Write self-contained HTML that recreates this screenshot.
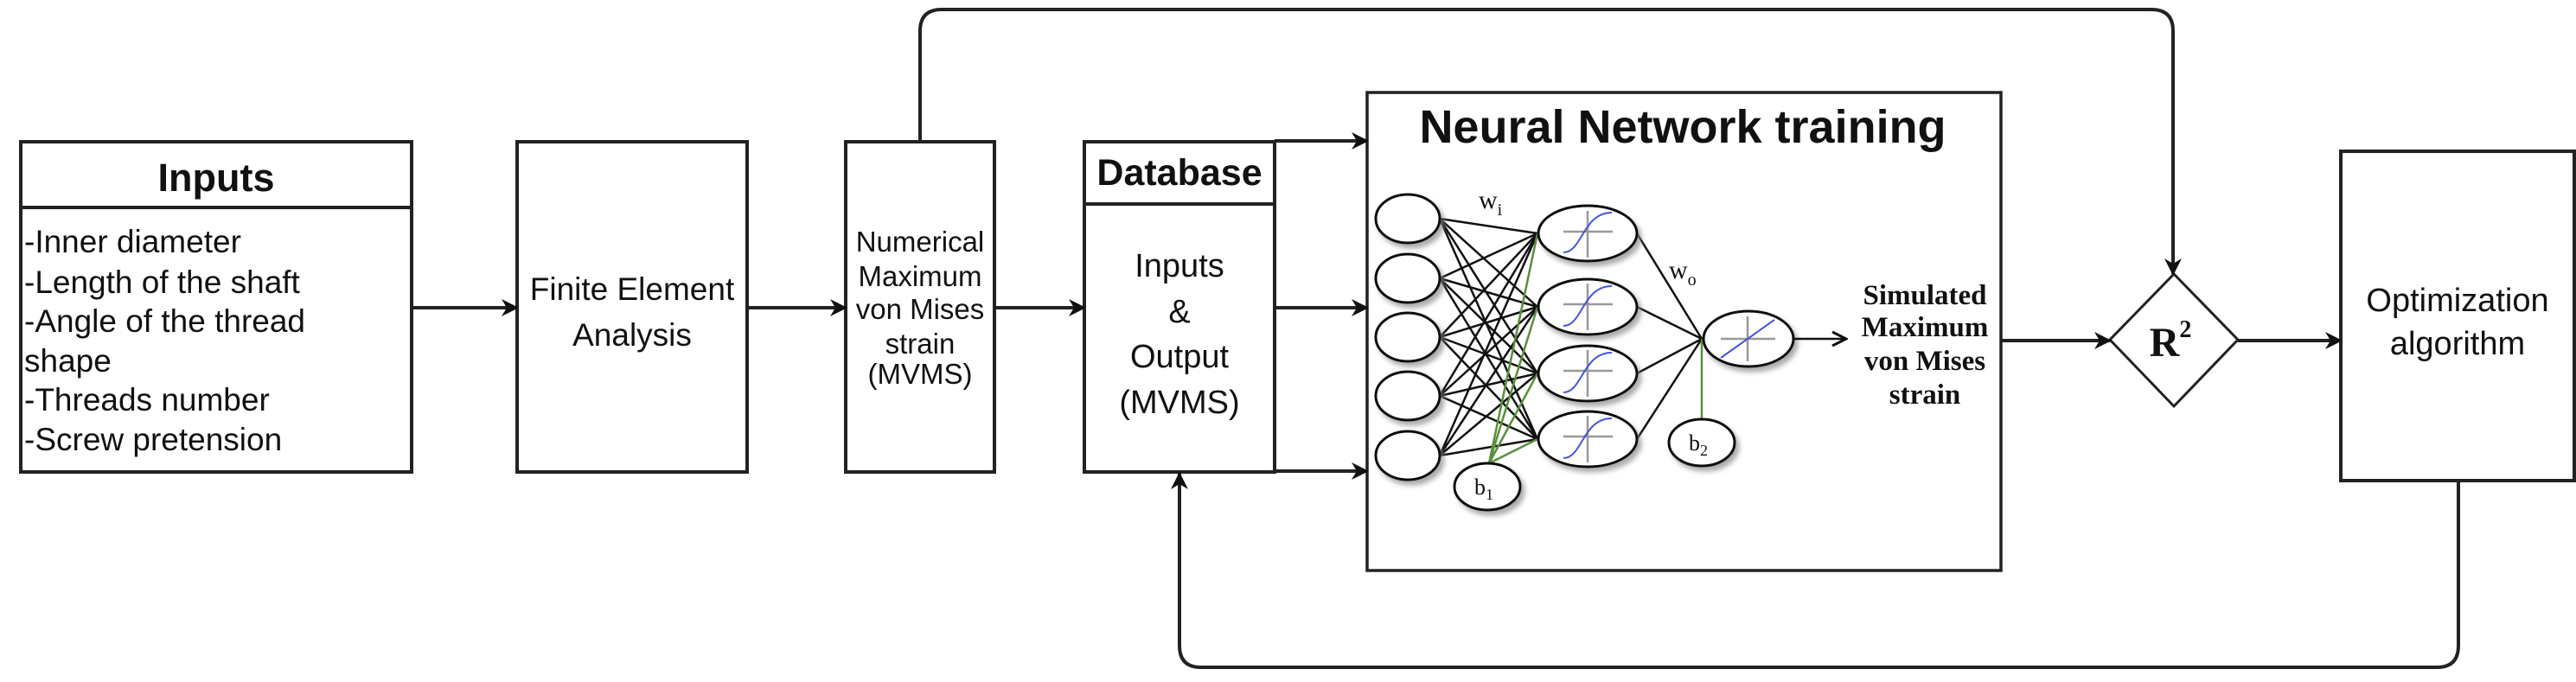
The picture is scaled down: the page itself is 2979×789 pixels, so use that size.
<!DOCTYPE html>
<html><head><meta charset="utf-8"><style>
html,body{margin:0;padding:0;background:#fff;}
svg{display:block;}
text{font-family:"Liberation Sans",sans-serif;fill:#111;}
.s{font-family:"Liberation Serif",serif;}
</style></head><body>
<svg width="2979" height="789" viewBox="0 0 2979 789" xmlns="http://www.w3.org/2000/svg">
<defs>
<marker id="ah" viewBox="0 0 20 20" refX="18" refY="10" markerWidth="20" markerHeight="20" markerUnits="userSpaceOnUse" orient="auto">
<path d="M0,0 L20,10 L0,20 L6,10 Z" fill="#111"/></marker>
<marker id="oa" viewBox="0 0 20 20" refX="18" refY="10" markerWidth="20" markerHeight="20" markerUnits="userSpaceOnUse" orient="auto">
<path d="M2,2 L18,10 L2,18" fill="none" stroke="#111" stroke-width="3"/></marker>
<filter id="sh" x="-20%" y="-20%" width="150%" height="150%"><feDropShadow dx="4" dy="5" stdDeviation="3" flood-color="#888" flood-opacity="0.7"/></filter>
</defs>
<g fill="none" stroke="#222" stroke-width="4">
<rect x="24" y="164" width="452" height="382"/>
<line x1="24" y1="240" x2="476" y2="240"/>
<rect x="598" y="164" width="266" height="382"/>
<rect x="978" y="164" width="172" height="382"/>
<rect x="1254" y="164" width="220" height="382"/>
<line x1="1254" y1="236" x2="1474" y2="236"/>
<rect x="1581" y="107" width="733" height="553" stroke-width="3.5"/>
<rect x="2707" y="175" width="270" height="381"/>
<path d="M2440,393 L2514,317 L2588,393 L2514,470 Z" stroke-width="3"/>
</g>
<g stroke="#222" stroke-width="4" fill="none">
<line x1="476" y1="356" x2="598" y2="356" marker-end="url(#ah)"/>
<line x1="864" y1="356" x2="978" y2="356" marker-end="url(#ah)"/>
<line x1="1150" y1="356" x2="1254" y2="356" marker-end="url(#ah)"/>
<line x1="1474" y1="163" x2="1581" y2="163" marker-end="url(#ah)"/>
<line x1="1474" y1="356" x2="1581" y2="356" marker-end="url(#ah)"/>
<line x1="1474" y1="545" x2="1581" y2="545" marker-end="url(#ah)"/>
<line x1="2314" y1="394" x2="2440" y2="394" marker-end="url(#ah)"/>
<line x1="2588" y1="394" x2="2707" y2="394" marker-end="url(#ah)"/>
<path d="M1064,164 L1064,36 Q1064,11 1089,11 L2488,11 Q2513,11 2513,36 L2513,317" marker-end="url(#ah)"/>
<path d="M2843,556 L2843,747 Q2843,772 2818,772 L1389,772 Q1364,772 1364,747 L1364,548" marker-end="url(#ah)"/>
</g>
<g stroke="#111" stroke-width="2.5">
<line x1="1665" y1="253" x2="1778" y2="270"/><line x1="1665" y1="253" x2="1778" y2="355"/><line x1="1665" y1="253" x2="1778" y2="432"/><line x1="1665" y1="253" x2="1778" y2="508"/>
<line x1="1665" y1="322" x2="1778" y2="270"/><line x1="1665" y1="322" x2="1778" y2="355"/><line x1="1665" y1="322" x2="1778" y2="432"/><line x1="1665" y1="322" x2="1778" y2="508"/>
<line x1="1665" y1="390" x2="1778" y2="270"/><line x1="1665" y1="390" x2="1778" y2="355"/><line x1="1665" y1="390" x2="1778" y2="432"/><line x1="1665" y1="390" x2="1778" y2="508"/>
<line x1="1665" y1="458" x2="1778" y2="270"/><line x1="1665" y1="458" x2="1778" y2="355"/><line x1="1665" y1="458" x2="1778" y2="432"/><line x1="1665" y1="458" x2="1778" y2="508"/>
<line x1="1665" y1="527" x2="1778" y2="270"/><line x1="1665" y1="527" x2="1778" y2="355"/><line x1="1665" y1="527" x2="1778" y2="432"/><line x1="1665" y1="527" x2="1778" y2="508"/>
<line x1="1893" y1="270" x2="1968" y2="392"/><line x1="1893" y1="355" x2="1968" y2="392"/><line x1="1893" y1="432" x2="1968" y2="392"/><line x1="1893" y1="508" x2="1968" y2="392"/>
</g>
<g stroke="#5a8f3a" stroke-width="2.5">
<line x1="1722" y1="536" x2="1778" y2="270"/><line x1="1722" y1="536" x2="1778" y2="355"/><line x1="1722" y1="536" x2="1778" y2="432"/><line x1="1722" y1="536" x2="1778" y2="508"/>
<line x1="1968" y1="392" x2="1968" y2="485"/>
</g>
<g fill="#fff" stroke="#111" stroke-width="3" filter="url(#sh)">
<ellipse cx="1628" cy="253" rx="37" ry="28"/><ellipse cx="1628" cy="322" rx="37" ry="28"/><ellipse cx="1628" cy="390" rx="37" ry="28"/><ellipse cx="1628" cy="458" rx="37" ry="28"/><ellipse cx="1628" cy="527" rx="37" ry="28"/>
<ellipse cx="1836" cy="270" rx="57" ry="32"/><ellipse cx="1836" cy="355" rx="57" ry="32"/><ellipse cx="1836" cy="432" rx="57" ry="32"/><ellipse cx="1836" cy="508" rx="57" ry="32"/>
<ellipse cx="2022" cy="392" rx="52" ry="32"/>
<ellipse cx="1720" cy="563" rx="38" ry="27"/><ellipse cx="1968" cy="512" rx="38" ry="27"/>
</g>
<g stroke="#999" stroke-width="2.5">
<line x1="1808" y1="268" x2="1865" y2="268"/><line x1="1836" y1="244" x2="1836" y2="298"/>
<line x1="1808" y1="352" x2="1865" y2="352"/><line x1="1836" y1="328" x2="1836" y2="382"/>
<line x1="1808" y1="429" x2="1865" y2="429"/><line x1="1836" y1="405" x2="1836" y2="459"/>
<line x1="1808" y1="505" x2="1865" y2="505"/><line x1="1836" y1="481" x2="1836" y2="535"/>
<line x1="1990" y1="392" x2="2053" y2="392"/><line x1="2021" y1="366" x2="2021" y2="418"/>
</g>
<g stroke="#4455dd" stroke-width="2" fill="none">
<path d="M1808,292 C1830,292 1830,246 1864,246"/>
<path d="M1808,377 C1830,377 1830,331 1864,331"/>
<path d="M1808,454 C1830,454 1830,408 1864,408"/>
<path d="M1808,530 C1830,530 1830,484 1864,484"/>
<line x1="1990" y1="414" x2="2052" y2="370"/>
</g>
<line x1="2075" y1="392" x2="2135" y2="392" stroke="#111" stroke-width="2.5" marker-end="url(#oa)"/>
<text class="s" x="1710" y="241" font-size="30" fill="#333">w<tspan font-size="20" dy="8">i</tspan></text>
<text class="s" x="1930" y="322" font-size="30" fill="#333">w<tspan font-size="20" dy="8">o</tspan></text>
<text class="s" x="1705" y="572" font-size="26">b<tspan font-size="18" dy="6">1</tspan></text>
<text class="s" x="1953" y="521" font-size="26">b<tspan font-size="18" dy="6">2</tspan></text>
<text x="250" y="221" font-size="45" font-weight="bold" text-anchor="middle">Inputs</text>
<g font-size="37">
<text x="28" y="292">-Inner diameter</text>
<text x="28" y="339">-Length of the shaft</text>
<text x="28" y="384">-Angle of the thread</text>
<text x="28" y="430">shape</text>
<text x="28" y="475">-Threads number</text>
<text x="28" y="521">-Screw pretension</text>
</g>
<g font-size="37" text-anchor="middle">
<text x="731" y="347">Finite Element</text>
<text x="731" y="400">Analysis</text>
</g>
<g font-size="33" text-anchor="middle">
<text x="1064" y="291">Numerical</text>
<text x="1064" y="331">Maximum</text>
<text x="1064" y="369">von Mises</text>
<text x="1064" y="409">strain</text>
<text x="1064" y="444">(MVMS)</text>
</g>
<text x="1364" y="214" font-size="43" font-weight="bold" text-anchor="middle">Database</text>
<g font-size="38" text-anchor="middle">
<text x="1364" y="320">Inputs</text>
<text x="1364" y="373">&amp;</text>
<text x="1364" y="425">Output</text>
<text x="1364" y="478">(MVMS)</text>
</g>
<text x="1946" y="165" font-size="54" font-weight="bold" text-anchor="middle">Neural Network training</text>
<g font-size="33" font-weight="bold" text-anchor="middle">
<text class="s" x="2226" y="352">Simulated</text>
<text class="s" x="2226" y="389">Maximum</text>
<text class="s" x="2226" y="428">von Mises</text>
<text class="s" x="2226" y="467">strain</text>
</g>
<text class="s" x="2510" y="412" font-size="48" font-weight="bold" text-anchor="middle">R<tspan font-size="28" dy="-22">2</tspan></text>
<g font-size="38" text-anchor="middle">
<text x="2842" y="360">Optimization</text>
<text x="2842" y="410">algorithm</text>
</g>
</svg>
</body></html>
